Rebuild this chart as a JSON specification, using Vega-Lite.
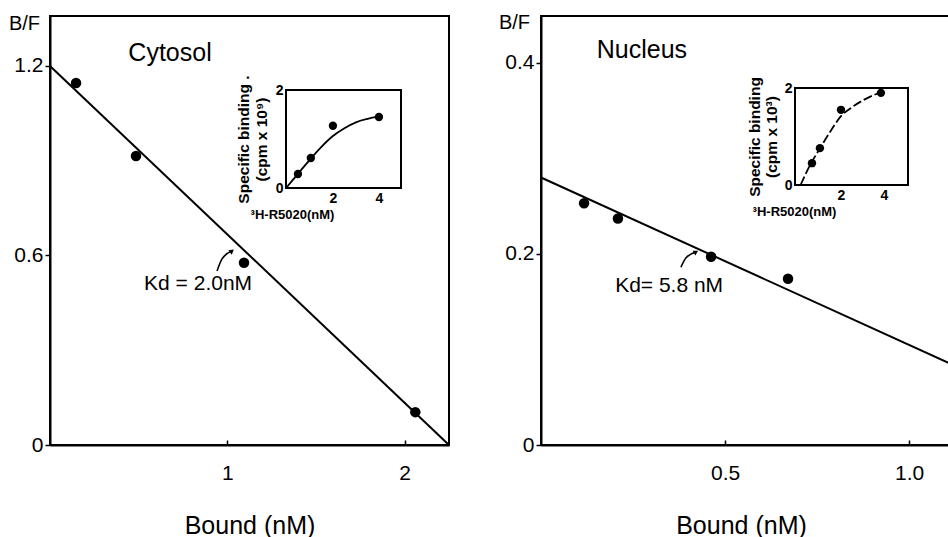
{
  "$schema": "https://vega.github.io/schema/vega-lite/v6.json",
  "background": "white",
  "padding": {"left": 7, "top": 11, "right": 0, "bottom": 0},
  "spacing": 43,
  "config": {
    "font": "Liberation Sans",
    "view": {"stroke": "black", "strokeWidth": 2},
    "axis": {
      "grid": false,
      "domainColor": "black",
      "domainWidth": 2,
      "tickColor": "black",
      "tickWidth": 1.5,
      "labelColor": "black",
      "titleColor": "black",
      "labelFont": "Liberation Sans",
      "titleFont": "Liberation Sans",
      "titleFontWeight": "normal"
    }
  },
  "datasets": {
    "cytLine": [{"bound": 0, "bf": 1.2}, {"bound": 2.25, "bf": 0}],
    "cytPts": [
      {"bound": 0.147, "bf": 1.146},
      {"bound": 0.485, "bf": 0.915},
      {"bound": 1.094, "bf": 0.577},
      {"bound": 2.06, "bf": 0.104}
    ],
    "cytArrow": [
      {"bound": 0.942, "bf": 0.551},
      {"bound": 0.97, "bf": 0.589},
      {"bound": 1.026, "bf": 0.614}
    ],
    "cytArrowHead": [{"bound": 1.026, "bf": 0.614}],
    "cytTitle": [{"bound": 0.677, "bf": 1.24, "label": "Cytosol"}],
    "cytKd": [{"bound": 0.835, "bf": 0.51, "label": "Kd = 2.0nM"}],
    "cytInsetPts": [
      {"conc": 0.48, "binding": 0.286},
      {"conc": 1.04, "binding": 0.612},
      {"conc": 2.0, "binding": 1.27},
      {"conc": 4.0, "binding": 1.45}
    ],
    "cytInsetCurve": [
      {"conc": 0, "binding": 0.02},
      {"conc": 0.5, "binding": 0.3},
      {"conc": 1, "binding": 0.58},
      {"conc": 1.5, "binding": 0.84},
      {"conc": 2, "binding": 1.06},
      {"conc": 2.5, "binding": 1.22},
      {"conc": 3, "binding": 1.34},
      {"conc": 3.5, "binding": 1.41},
      {"conc": 4, "binding": 1.46}
    ],
    "nucLine": [{"bound": 0, "bf": 0.28}, {"bound": 1.13, "bf": 0.082}],
    "nucPts": [
      {"bound": 0.117, "bf": 0.253},
      {"bound": 0.209, "bf": 0.237},
      {"bound": 0.462, "bf": 0.197},
      {"bound": 0.671, "bf": 0.174}
    ],
    "nucArrow": [
      {"bound": 0.38, "bf": 0.186},
      {"bound": 0.394, "bf": 0.196},
      {"bound": 0.421, "bf": 0.202}
    ],
    "nucArrowHead": [{"bound": 0.421, "bf": 0.202}],
    "nucTitle": [{"bound": 0.274, "bf": 0.413, "label": "Nucleus"}],
    "nucKd": [{"bound": 0.348, "bf": 0.166, "label": "Kd= 5.8 nM"}],
    "nucInsetPts": [
      {"conc": 0.65, "binding": 0.45},
      {"conc": 1.02, "binding": 0.76},
      {"conc": 2.0, "binding": 1.55},
      {"conc": 3.86, "binding": 1.9}
    ],
    "nucInsetCurve": [
      {"conc": 0.12, "binding": 0},
      {"conc": 0.5, "binding": 0.36},
      {"conc": 1, "binding": 0.74},
      {"conc": 1.5, "binding": 1.1},
      {"conc": 2, "binding": 1.42},
      {"conc": 2.5, "binding": 1.6},
      {"conc": 3, "binding": 1.74},
      {"conc": 3.5, "binding": 1.85},
      {"conc": 4, "binding": 1.93}
    ]
  },
  "hconcat": [
    {
      "width": 399,
      "height": 429,
      "layer": [
        {
          "layer": [
            {
              "data": {"name": "cytLine"},
              "mark": {"type": "line", "color": "black", "strokeWidth": 2},
              "encoding": {
                "x": {
                  "field": "bound", "type": "quantitative",
                  "scale": {"domain": [0, 2.25], "nice": false, "zero": false},
                  "axis": {
                    "title": "Bound (nM)", "values": [1, 2], "format": "d",
                    "tickSize": -5, "labelPadding": 22, "labelFontSize": 21,
                    "titleFontSize": 25, "titlePadding": 30
                  }
                },
                "y": {
                  "field": "bf", "type": "quantitative",
                  "scale": {"domain": [0, 1.358], "nice": false, "zero": false},
                  "axis": {
                    "title": "B/F", "values": [0, 0.6, 1.2], "format": "~g",
                    "tickSize": 5, "labelPadding": 2, "labelFontSize": 21,
                    "titleAngle": 0, "titleX": -26, "titleY": 13,
                    "titleAlign": "center", "titleBaseline": "alphabetic",
                    "titleFontSize": 20
                  }
                }
              }
            },
            {
              "data": {"name": "cytPts"},
              "mark": {"type": "point", "filled": true, "color": "black", "opacity": 1, "size": 110},
              "encoding": {
                "x": {"field": "bound", "type": "quantitative"},
                "y": {"field": "bf", "type": "quantitative"}
              }
            },
            {
              "data": {"name": "cytArrow"},
              "mark": {"type": "line", "color": "black", "strokeWidth": 1.6, "interpolate": "monotone"},
              "encoding": {
                "x": {"field": "bound", "type": "quantitative"},
                "y": {"field": "bf", "type": "quantitative"}
              }
            },
            {
              "data": {"name": "cytArrowHead"},
              "mark": {"type": "point", "shape": "triangle-up", "filled": true, "color": "black", "opacity": 1, "size": 30, "angle": 52},
              "encoding": {
                "x": {"field": "bound", "type": "quantitative"},
                "y": {"field": "bf", "type": "quantitative"}
              }
            },
            {
              "data": {"name": "cytTitle"},
              "mark": {"type": "text", "fontSize": 25, "color": "black", "align": "center", "baseline": "middle"},
              "encoding": {
                "x": {"field": "bound", "type": "quantitative"},
                "y": {"field": "bf", "type": "quantitative"},
                "text": {"field": "label"}
              }
            },
            {
              "data": {"name": "cytKd"},
              "mark": {"type": "text", "fontSize": 21, "color": "black", "align": "center", "baseline": "middle"},
              "encoding": {
                "x": {"field": "bound", "type": "quantitative"},
                "y": {"field": "bf", "type": "quantitative"},
                "text": {"field": "label"}
              }
            }
          ]
        },
        {
          "layer": [
            {
              "data": {"values": [{}]},
              "mark": {"type": "rect", "fill": "white", "fillOpacity": 0, "stroke": "black", "strokeWidth": 2},
              "encoding": {
                "x": {"datum": -0.04, "type": "quantitative"},
                "x2": {"datum": 4.96},
                "y": {"datum": 0, "type": "quantitative"},
                "y2": {"datum": 2}
              }
            },
            {
              "data": {"name": "cytInsetCurve"},
              "mark": {"type": "line", "color": "black", "strokeWidth": 1.8, "interpolate": "monotone"},
              "encoding": {
                "x": {
                  "field": "conc", "type": "quantitative",
                  "scale": {"domain": [-0.04, 4.96], "range": [236, 351], "nice": false, "zero": false},
                  "axis": {
                    "orient": "bottom", "offset": -257, "domain": false, "ticks": false,
                    "values": [2, 4], "format": "d", "labelPadding": 3, "labelFontSize": 14, "labelFontWeight": "bold",
                    "title": "³H-R5020(nM)", "titleFontSize": 13, "titleFontWeight": "bold",
                    "titleX": 242, "titleY": 26, "titleBaseline": "middle", "titleAlign": "center"
                  }
                },
                "y": {
                  "field": "binding", "type": "quantitative",
                  "scale": {"domain": [0, 2], "range": [172, 74], "nice": false, "zero": false},
                  "axis": {
                    "orient": "left", "offset": -236, "domain": false, "ticks": false,
                    "values": [0, 1, 2], "format": "d", "labelPadding": 3, "labelFontSize": 14, "labelFontWeight": "bold",
                    "title": ["Specific binding .", "(cpm x 10⁹)"], "titleFontSize": 15.5,
                    "titleFontWeight": "bold", "titlePadding": 6, "titleLineHeight": 18
                  }
                }
              }
            },
            {
              "data": {"name": "cytInsetPts"},
              "mark": {"type": "point", "filled": true, "color": "black", "opacity": 1, "size": 70},
              "encoding": {
                "x": {"field": "conc", "type": "quantitative"},
                "y": {"field": "binding", "type": "quantitative"}
              }
            }
          ]
        }
      ],
      "resolve": {
        "scale": {"x": "independent", "y": "independent"},
        "axis": {"x": "independent", "y": "independent"}
      }
    },
    {
      "width": 416,
      "height": 429,
      "layer": [
        {
          "layer": [
            {
              "data": {"name": "nucLine"},
              "mark": {"type": "line", "color": "black", "strokeWidth": 2},
              "encoding": {
                "x": {
                  "field": "bound", "type": "quantitative",
                  "scale": {"domain": [0, 1.13], "nice": false, "zero": false},
                  "axis": {
                    "title": "Bound (nM)", "values": [0.5, 1.0], "format": ".1f",
                    "tickSize": -5, "labelPadding": 22, "labelFontSize": 21,
                    "titleFontSize": 25, "titlePadding": 30, "titleX": 200
                  }
                },
                "y": {
                  "field": "bf", "type": "quantitative",
                  "scale": {"domain": [0, 0.449], "nice": false, "zero": false},
                  "axis": {
                    "title": "B/F", "values": [0, 0.2, 0.4], "format": "~g",
                    "tickSize": 5, "labelPadding": 2, "labelFontSize": 21,
                    "titleAngle": 0, "titleX": -27, "titleY": 12,
                    "titleAlign": "center", "titleBaseline": "alphabetic",
                    "titleFontSize": 20
                  }
                }
              }
            },
            {
              "data": {"name": "nucPts"},
              "mark": {"type": "point", "filled": true, "color": "black", "opacity": 1, "size": 110},
              "encoding": {
                "x": {"field": "bound", "type": "quantitative"},
                "y": {"field": "bf", "type": "quantitative"}
              }
            },
            {
              "data": {"name": "nucArrow"},
              "mark": {"type": "line", "color": "black", "strokeWidth": 1.6, "interpolate": "monotone"},
              "encoding": {
                "x": {"field": "bound", "type": "quantitative"},
                "y": {"field": "bf", "type": "quantitative"}
              }
            },
            {
              "data": {"name": "nucArrowHead"},
              "mark": {"type": "point", "shape": "triangle-up", "filled": true, "color": "black", "opacity": 1, "size": 30, "angle": 60},
              "encoding": {
                "x": {"field": "bound", "type": "quantitative"},
                "y": {"field": "bf", "type": "quantitative"}
              }
            },
            {
              "data": {"name": "nucTitle"},
              "mark": {"type": "text", "fontSize": 25, "color": "black", "align": "center", "baseline": "middle"},
              "encoding": {
                "x": {"field": "bound", "type": "quantitative"},
                "y": {"field": "bf", "type": "quantitative"},
                "text": {"field": "label"}
              }
            },
            {
              "data": {"name": "nucKd"},
              "mark": {"type": "text", "fontSize": 21, "color": "black", "align": "center", "baseline": "middle"},
              "encoding": {
                "x": {"field": "bound", "type": "quantitative"},
                "y": {"field": "bf", "type": "quantitative"},
                "text": {"field": "label"}
              }
            }
          ]
        },
        {
          "layer": [
            {
              "data": {"values": [{}]},
              "mark": {"type": "rect", "fill": "white", "fillOpacity": 0, "stroke": "black", "strokeWidth": 2},
              "encoding": {
                "x": {"datum": -0.14, "type": "quantitative"},
                "x2": {"datum": 5.12},
                "y": {"datum": 0, "type": "quantitative"},
                "y2": {"datum": 2}
              }
            },
            {
              "data": {"name": "nucInsetCurve"},
              "mark": {"type": "line", "color": "black", "strokeWidth": 1.8, "interpolate": "monotone", "strokeDash": [9, 3]},
              "encoding": {
                "x": {
                  "field": "conc", "type": "quantitative",
                  "scale": {"domain": [-0.14, 5.12], "range": [254, 367], "nice": false, "zero": false},
                  "axis": {
                    "orient": "bottom", "offset": -260, "domain": false, "ticks": false,
                    "values": [2, 4], "format": "d", "labelPadding": 3, "labelFontSize": 14, "labelFontWeight": "bold",
                    "title": "³H-R5020(nM)", "titleFontSize": 13, "titleFontWeight": "bold",
                    "titleX": 253, "titleY": 26, "titleBaseline": "middle", "titleAlign": "center"
                  }
                },
                "y": {
                  "field": "binding", "type": "quantitative",
                  "scale": {"domain": [0, 2], "range": [169, 72], "nice": false, "zero": false},
                  "axis": {
                    "orient": "left", "offset": -254, "domain": false, "ticks": false,
                    "values": [0, 1, 2], "format": "d", "labelPadding": 3, "labelFontSize": 14, "labelFontWeight": "bold",
                    "title": ["Specific binding", "(cpm x 10³)"], "titleFontSize": 15.5,
                    "titleFontWeight": "bold", "titlePadding": 5, "titleLineHeight": 17
                  }
                }
              }
            },
            {
              "data": {"name": "nucInsetPts"},
              "mark": {"type": "point", "filled": true, "color": "black", "opacity": 1, "size": 70},
              "encoding": {
                "x": {"field": "conc", "type": "quantitative"},
                "y": {"field": "binding", "type": "quantitative"}
              }
            }
          ]
        }
      ],
      "resolve": {
        "scale": {"x": "independent", "y": "independent"},
        "axis": {"x": "independent", "y": "independent"}
      }
    }
  ]
}
